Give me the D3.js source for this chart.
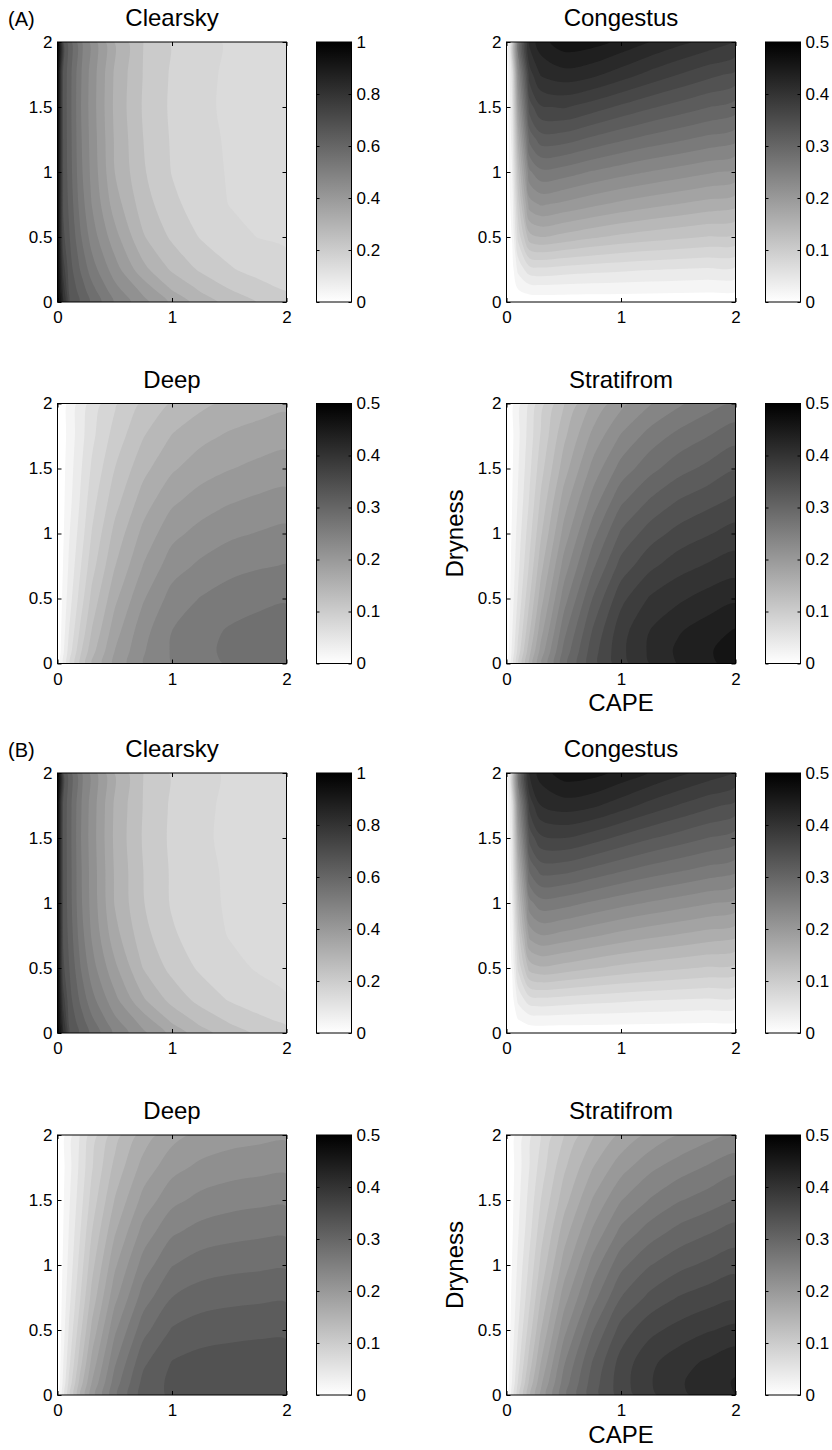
<!DOCTYPE html>
<html>
<head>
<meta charset="utf-8">
<title>Cloud type probability vs CAPE and Dryness</title>
<script src="https://cdn.jsdelivr.net/npm/d3@7"></script>
<style>
  body { margin: 0; background: #fff; }
  svg text { font-family: "Liberation Sans", Arial, Helvetica, sans-serif; fill: #000; }
</style>
</head>
<body>
<svg id="chart" width="832" height="1450"></svg>
<script>
// grid where the values were read (CAPE across, Dryness up)
var capeGrid = [0, 0.05, 0.1, 0.2, 0.3, 0.5, 0.75, 1, 1.25, 1.5, 1.75, 2];
var drynessGrid = [0, 0.1, 0.25, 0.5, 0.75, 1, 1.25, 1.5, 1.75, 2];

var xTicks = [0, 1, 2];
var yTicks = [0, 0.5, 1, 1.5, 2];
var cbTicksFull = [0, 0.2, 0.4, 0.6, 0.8, 1];
var cbTicksHalf = [0, 0.1, 0.2, 0.3, 0.4, 0.5];

// one row per dryness value, bottom (0) to top (2)
var clearskyA = [
  [1, 0.841, 0.697, 0.651, 0.601, 0.515, 0.444, 0.375, 0.318, 0.279, 0.248, 0.224],
  [1, 0.817, 0.691, 0.636, 0.579, 0.490, 0.414, 0.336, 0.288, 0.250, 0.223, 0.200],
  [1, 0.771, 0.678, 0.607, 0.542, 0.451, 0.354, 0.288, 0.243, 0.210, 0.189, 0.171],
  [1, 0.712, 0.661, 0.571, 0.500, 0.402, 0.299, 0.242, 0.202, 0.179, 0.159, 0.154],
  [1, 0.695, 0.647, 0.547, 0.474, 0.363, 0.271, 0.216, 0.184, 0.159, 0.154, 0.148],
  [1, 0.692, 0.638, 0.533, 0.462, 0.340, 0.255, 0.203, 0.174, 0.157, 0.151, 0.145],
  [1, 0.690, 0.635, 0.528, 0.457, 0.335, 0.250, 0.200, 0.170, 0.156, 0.150, 0.144],
  [1, 0.689, 0.633, 0.524, 0.453, 0.330, 0.245, 0.197, 0.166, 0.155, 0.149, 0.143],
  [1, 0.690, 0.634, 0.527, 0.455, 0.333, 0.248, 0.199, 0.168, 0.155, 0.149, 0.143],
  [1, 0.691, 0.636, 0.530, 0.458, 0.336, 0.250, 0.200, 0.171, 0.156, 0.150, 0.144]
];
var congestusA = [
  [0, 0.001, 0.003, 0.006, 0.007, 0.007, 0.007, 0.007, 0.007, 0.007, 0.007, 0.007],
  [0, 0.006, 0.020, 0.030, 0.031, 0.030, 0.029, 0.028, 0.027, 0.026, 0.025, 0.024],
  [0, 0.012, 0.045, 0.072, 0.075, 0.071, 0.067, 0.064, 0.061, 0.059, 0.057, 0.055],
  [0, 0.022, 0.085, 0.152, 0.160, 0.153, 0.143, 0.135, 0.129, 0.124, 0.119, 0.115],
  [0, 0.030, 0.110, 0.210, 0.222, 0.215, 0.204, 0.194, 0.186, 0.179, 0.172, 0.165],
  [0, 0.040, 0.135, 0.256, 0.275, 0.270, 0.258, 0.248, 0.239, 0.231, 0.223, 0.215],
  [0, 0.050, 0.165, 0.305, 0.330, 0.328, 0.315, 0.303, 0.292, 0.283, 0.274, 0.265],
  [0, 0.060, 0.200, 0.350, 0.378, 0.382, 0.370, 0.356, 0.343, 0.332, 0.321, 0.310],
  [0, 0.070, 0.235, 0.390, 0.422, 0.432, 0.425, 0.410, 0.394, 0.380, 0.367, 0.355],
  [0, 0.080, 0.270, 0.425, 0.452, 0.472, 0.468, 0.455, 0.440, 0.426, 0.413, 0.400]
];
var deepA = [
  [0, 0.040, 0.075, 0.125, 0.160, 0.205, 0.240, 0.260, 0.273, 0.282, 0.287, 0.290],
  [0, 0.036, 0.068, 0.116, 0.152, 0.200, 0.238, 0.262, 0.275, 0.284, 0.289, 0.292],
  [0, 0.031, 0.060, 0.104, 0.141, 0.191, 0.233, 0.260, 0.273, 0.282, 0.287, 0.290],
  [0, 0.025, 0.050, 0.089, 0.126, 0.175, 0.218, 0.248, 0.261, 0.270, 0.275, 0.278],
  [0, 0.021, 0.043, 0.078, 0.112, 0.159, 0.201, 0.231, 0.244, 0.253, 0.258, 0.261],
  [0, 0.018, 0.038, 0.069, 0.101, 0.146, 0.186, 0.214, 0.227, 0.236, 0.241, 0.245],
  [0, 0.016, 0.033, 0.062, 0.092, 0.132, 0.170, 0.196, 0.209, 0.218, 0.224, 0.228],
  [0, 0.015, 0.030, 0.057, 0.083, 0.120, 0.154, 0.177, 0.191, 0.199, 0.205, 0.209],
  [0, 0.013, 0.027, 0.052, 0.075, 0.108, 0.139, 0.161, 0.174, 0.183, 0.189, 0.193],
  [0, 0.012, 0.025, 0.048, 0.068, 0.097, 0.124, 0.142, 0.155, 0.164, 0.170, 0.175]
];
var stratiformA = [
  [0, 0.050, 0.095, 0.165, 0.217, 0.292, 0.352, 0.392, 0.420, 0.441, 0.455, 0.468],
  [0, 0.045, 0.086, 0.153, 0.207, 0.285, 0.350, 0.395, 0.423, 0.444, 0.457, 0.470],
  [0, 0.039, 0.076, 0.137, 0.192, 0.273, 0.341, 0.392, 0.420, 0.438, 0.450, 0.462],
  [0, 0.032, 0.063, 0.118, 0.171, 0.250, 0.320, 0.374, 0.402, 0.416, 0.428, 0.436],
  [0, 0.027, 0.054, 0.103, 0.153, 0.228, 0.295, 0.348, 0.375, 0.392, 0.402, 0.410],
  [0, 0.023, 0.048, 0.092, 0.137, 0.207, 0.272, 0.323, 0.350, 0.367, 0.378, 0.388],
  [0, 0.020, 0.042, 0.082, 0.124, 0.189, 0.248, 0.296, 0.322, 0.341, 0.353, 0.364],
  [0, 0.018, 0.038, 0.075, 0.112, 0.170, 0.226, 0.268, 0.293, 0.312, 0.325, 0.338],
  [0, 0.016, 0.035, 0.069, 0.102, 0.155, 0.205, 0.242, 0.268, 0.286, 0.299, 0.312],
  [0, 0.015, 0.032, 0.063, 0.092, 0.138, 0.182, 0.214, 0.238, 0.256, 0.271, 0.283]
];
var clearskyB = [
  [1, 0.840, 0.695, 0.648, 0.597, 0.510, 0.438, 0.370, 0.312, 0.272, 0.242, 0.218],
  [1, 0.815, 0.688, 0.632, 0.574, 0.485, 0.408, 0.330, 0.280, 0.243, 0.216, 0.195],
  [1, 0.768, 0.675, 0.603, 0.537, 0.445, 0.347, 0.281, 0.236, 0.203, 0.181, 0.163],
  [1, 0.710, 0.658, 0.567, 0.495, 0.396, 0.293, 0.236, 0.197, 0.173, 0.156, 0.150],
  [1, 0.694, 0.644, 0.543, 0.470, 0.358, 0.266, 0.212, 0.180, 0.158, 0.152, 0.146],
  [1, 0.691, 0.636, 0.530, 0.459, 0.337, 0.252, 0.200, 0.170, 0.156, 0.150, 0.144],
  [1, 0.690, 0.635, 0.528, 0.457, 0.335, 0.250, 0.199, 0.169, 0.155, 0.149, 0.143],
  [1, 0.689, 0.633, 0.524, 0.453, 0.330, 0.245, 0.196, 0.165, 0.154, 0.148, 0.142],
  [1, 0.690, 0.634, 0.527, 0.455, 0.333, 0.248, 0.198, 0.167, 0.154, 0.148, 0.142],
  [1, 0.691, 0.636, 0.530, 0.458, 0.336, 0.250, 0.199, 0.170, 0.155, 0.149, 0.143]
];
var congestusB = [
  [0, 0.001, 0.003, 0.006, 0.007, 0.007, 0.007, 0.007, 0.007, 0.007, 0.007, 0.007],
  [0, 0.006, 0.019, 0.029, 0.030, 0.029, 0.028, 0.027, 0.026, 0.025, 0.024, 0.023],
  [0, 0.012, 0.044, 0.070, 0.073, 0.070, 0.066, 0.063, 0.060, 0.058, 0.056, 0.054],
  [0, 0.022, 0.083, 0.148, 0.157, 0.151, 0.142, 0.134, 0.128, 0.123, 0.118, 0.114],
  [0, 0.030, 0.108, 0.206, 0.219, 0.213, 0.203, 0.193, 0.185, 0.178, 0.171, 0.164],
  [0, 0.040, 0.133, 0.253, 0.272, 0.268, 0.257, 0.247, 0.238, 0.230, 0.222, 0.214],
  [0, 0.050, 0.162, 0.302, 0.327, 0.326, 0.314, 0.302, 0.291, 0.282, 0.273, 0.264],
  [0, 0.060, 0.197, 0.347, 0.376, 0.380, 0.369, 0.355, 0.342, 0.331, 0.320, 0.309],
  [0, 0.070, 0.232, 0.387, 0.420, 0.430, 0.424, 0.409, 0.393, 0.379, 0.366, 0.354],
  [0, 0.080, 0.267, 0.422, 0.450, 0.470, 0.467, 0.454, 0.439, 0.425, 0.412, 0.399]
];
var deepB = [
  [0, 0.050, 0.092, 0.160, 0.210, 0.275, 0.330, 0.343, 0.346, 0.348, 0.349, 0.349],
  [0, 0.045, 0.084, 0.149, 0.200, 0.269, 0.326, 0.345, 0.349, 0.351, 0.352, 0.352],
  [0, 0.039, 0.074, 0.133, 0.186, 0.257, 0.316, 0.341, 0.347, 0.349, 0.350, 0.350],
  [0, 0.032, 0.062, 0.115, 0.165, 0.236, 0.293, 0.322, 0.331, 0.334, 0.336, 0.336],
  [0, 0.027, 0.053, 0.100, 0.147, 0.214, 0.270, 0.300, 0.310, 0.314, 0.316, 0.317],
  [0, 0.023, 0.046, 0.089, 0.133, 0.196, 0.249, 0.279, 0.290, 0.294, 0.296, 0.297],
  [0, 0.020, 0.041, 0.080, 0.120, 0.178, 0.228, 0.257, 0.268, 0.273, 0.276, 0.277],
  [0, 0.018, 0.037, 0.072, 0.108, 0.161, 0.207, 0.234, 0.246, 0.252, 0.255, 0.256],
  [0, 0.016, 0.033, 0.066, 0.098, 0.146, 0.188, 0.213, 0.225, 0.231, 0.234, 0.236],
  [0, 0.015, 0.030, 0.061, 0.089, 0.131, 0.169, 0.193, 0.205, 0.211, 0.214, 0.216]
];
var stratiformB = [
  [0, 0.047, 0.089, 0.155, 0.204, 0.274, 0.331, 0.368, 0.395, 0.415, 0.428, 0.440],
  [0, 0.042, 0.081, 0.144, 0.195, 0.268, 0.329, 0.371, 0.398, 0.417, 0.430, 0.442],
  [0, 0.037, 0.071, 0.129, 0.180, 0.257, 0.321, 0.368, 0.395, 0.412, 0.423, 0.434],
  [0, 0.030, 0.059, 0.110, 0.159, 0.233, 0.298, 0.348, 0.374, 0.387, 0.398, 0.405],
  [0, 0.025, 0.050, 0.095, 0.141, 0.210, 0.271, 0.320, 0.345, 0.361, 0.370, 0.377],
  [0, 0.021, 0.044, 0.084, 0.125, 0.188, 0.248, 0.294, 0.319, 0.334, 0.344, 0.353],
  [0, 0.018, 0.038, 0.074, 0.112, 0.170, 0.223, 0.266, 0.290, 0.307, 0.318, 0.328],
  [0, 0.016, 0.034, 0.067, 0.100, 0.151, 0.201, 0.239, 0.261, 0.278, 0.289, 0.301],
  [0, 0.014, 0.031, 0.060, 0.089, 0.136, 0.179, 0.212, 0.235, 0.250, 0.262, 0.273],
  [0, 0.013, 0.028, 0.054, 0.079, 0.119, 0.157, 0.184, 0.205, 0.220, 0.233, 0.243]
];

var plotW = 229, plotH = 260, cbGap = 259, cbW = 35;
var colX = [57.5, 506.5];
var rowY = [42, 403.5, 773, 1135];

var panels = [
  {title: "Clearsky",   data: clearskyA,   cmax: 1,   cb: cbTicksFull, lev: [0.16, 0.045], col: 0, row: 0},
  {title: "Congestus",  data: congestusA,  cmax: 0.5, cb: cbTicksHalf, lev: [0.02, 0.02],  col: 1, row: 0},
  {title: "Deep",       data: deepA,       cmax: 0.5, cb: cbTicksHalf, lev: [0.02, 0.02],  col: 0, row: 1},
  {title: "Stratifrom", data: stratiformA, cmax: 0.5, cb: cbTicksHalf, lev: [0.02, 0.02],  col: 1, row: 1, labels: true},
  {title: "Clearsky",   data: clearskyB,   cmax: 1,   cb: cbTicksFull, lev: [0.16, 0.045], col: 0, row: 2},
  {title: "Congestus",  data: congestusB,  cmax: 0.5, cb: cbTicksHalf, lev: [0.02, 0.02],  col: 1, row: 2},
  {title: "Deep",       data: deepB,       cmax: 0.5, cb: cbTicksHalf, lev: [0.02, 0.02],  col: 0, row: 3},
  {title: "Stratifrom", data: stratiformB, cmax: 0.5, cb: cbTicksHalf, lev: [0.02, 0.02],  col: 1, row: 3, labels: true}
];

var svg = d3.select("#chart");
var defs = svg.append("defs");

var grad = defs.append("linearGradient").attr("id", "cbgrad")
    .attr("x1", 0).attr("y1", 1).attr("x2", 0).attr("y2", 0);
grad.append("stop").attr("offset", "0%").attr("stop-color", "#fff");
grad.append("stop").attr("offset", "100%").attr("stop-color", "#000");

// find where d3.contours places a value inside its cell
var probe = d3.contours().size([2, 1]).thresholds([0.5])([0, 1])[0];
var probeX = d3.min(probe.coordinates.flat(2), function(p) { return p[0]; });
var off = probeX - 0.5;

var gridX = d3.scaleLinear().domain(capeGrid.map(function(d, i) { return i + off; })).range(capeGrid).clamp(true);
var gridY = d3.scaleLinear().domain(drynessGrid.map(function(d, i) { return i + off; })).range(drynessGrid).clamp(true);

var fmt = d3.format("~g");
var ringLine = d3.line().curve(d3.curveCatmullRomClosed.alpha(0.5));

function styleAxis(sel, size) {
  sel.select(".domain").remove();
  sel.selectAll("line").attr("stroke", "#000").attr("stroke-width", 1);
  sel.selectAll("text").attr("font-size", size).attr("fill", "#000");
  sel.attr("font-family", null).attr("font-size", null);
}

panels.forEach(function(p, k) {
  var g = svg.append("g").attr("transform", "translate(" + colX[p.col] + "," + rowY[p.row] + ")");
  var x = d3.scaleLinear().domain([0, 2]).range([0, plotW]);
  var y = d3.scaleLinear().domain([0, 2]).range([plotH, 0]);
  var color = d3.scaleLinear().domain([0, p.cmax]).range(["#ffffff", "#000000"]).clamp(true);

  var values = p.data.flat();
  var lo = d3.min(values), hi = d3.max(values);
  var thresholds = d3.range(p.lev[0], hi, p.lev[1]);
  var bands = d3.contours().size([capeGrid.length, drynessGrid.length]).thresholds(thresholds)(values);

  // smooth each ring in pixel space
  function bandPath(mp) {
    return mp.coordinates.map(function(poly) {
      return poly.map(function(ring) {
        var pts = [];
        ring.slice(0, -1).forEach(function(q) {
          var pt = [x(gridX(q[0])), y(gridY(q[1]))];
          var last = pts[pts.length - 1];
          if (!last || Math.abs(last[0] - pt[0]) > 1e-6 || Math.abs(last[1] - pt[1]) > 1e-6) pts.push(pt);
        });
        return pts.length > 2 ? ringLine(pts) : "";
      }).join("");
    }).join("");
  }

  defs.append("clipPath").attr("id", "clip" + k)
    .append("rect").attr("width", plotW).attr("height", plotH);

  var field = g.append("g").attr("clip-path", "url(#clip" + k + ")");
  field.append("rect").attr("width", plotW).attr("height", plotH).attr("fill", color(lo));
  field.selectAll("path").data(bands).join("path")
    .attr("d", bandPath)
    .attr("fill", function(d) { return color(d.value); });

  // axes with inward ticks on all four sides
  g.append("g").attr("transform", "translate(0," + plotH + ")")
    .call(d3.axisBottom(x).tickValues(xTicks).tickSizeInner(-4).tickSizeOuter(0).tickPadding(9).tickFormat(fmt))
    .call(styleAxis, 17);
  g.append("g")
    .call(d3.axisTop(x).tickValues(xTicks).tickSizeInner(-4).tickSizeOuter(0).tickFormat(""))
    .call(styleAxis, 17);
  g.append("g")
    .call(d3.axisLeft(y).tickValues(yTicks).tickSizeInner(-4).tickSizeOuter(0).tickPadding(5).tickFormat(fmt))
    .call(styleAxis, 17);
  g.append("g").attr("transform", "translate(" + plotW + ",0)")
    .call(d3.axisRight(y).tickValues(yTicks).tickSizeInner(-4).tickSizeOuter(0).tickFormat(""))
    .call(styleAxis, 17);
  g.append("rect").attr("width", plotW).attr("height", plotH)
    .attr("fill", "none").attr("stroke", "#000").attr("stroke-width", 1);

  g.append("text").attr("x", plotW / 2).attr("y", -16)
    .attr("text-anchor", "middle").attr("font-size", 24).text(p.title);

  // colorbar
  var cb = g.append("g").attr("transform", "translate(" + cbGap + ",0)");
  var cy = d3.scaleLinear().domain([0, p.cmax]).range([plotH, 0]);
  cb.append("rect").attr("width", cbW).attr("height", plotH).attr("fill", "url(#cbgrad)");
  cb.append("g").attr("transform", "translate(" + cbW + ",0)")
    .call(d3.axisRight(cy).tickValues(p.cb).tickSizeInner(-3).tickSizeOuter(0).tickPadding(5).tickFormat(fmt))
    .call(styleAxis, 17);
  cb.append("g")
    .call(d3.axisLeft(cy).tickValues(p.cb).tickSizeInner(-3).tickSizeOuter(0).tickFormat(""))
    .call(styleAxis, 17);
  cb.append("rect").attr("width", cbW).attr("height", plotH)
    .attr("fill", "none").attr("stroke", "#000").attr("stroke-width", 1);

  if (p.labels) {
    g.append("text").attr("transform", "translate(-43.5," + plotH / 2 + ") rotate(-90)")
      .attr("text-anchor", "middle").attr("font-size", 24).text("Dryness");
    g.append("text").attr("x", plotW / 2).attr("y", plotH + 47.5)
      .attr("text-anchor", "middle").attr("font-size", 24).text("CAPE");
  }
});

svg.append("text").attr("x", 8).attr("y", 26).attr("font-size", 20).text("(A)");
svg.append("text").attr("x", 8).attr("y", 757).attr("font-size", 20).text("(B)");
</script>
</body>
</html>
